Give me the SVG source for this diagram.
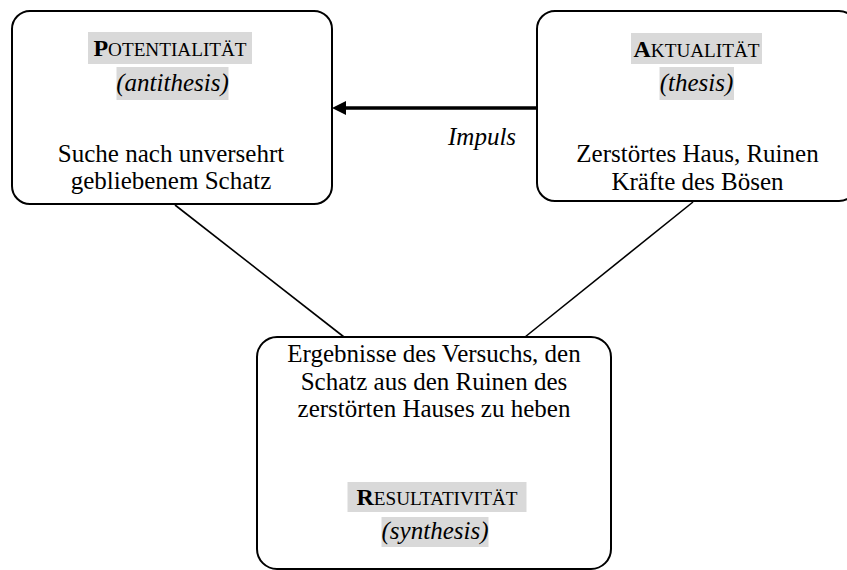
<svg xmlns="http://www.w3.org/2000/svg" width="847" height="570" viewBox="0 0 847 570">
<style>
.box{fill:#fff;stroke:#000;stroke-width:2}
text{font-family:'Liberation Serif','DejaVu Serif',serif;fill:#000;text-anchor:middle}
.t{font-size:25px}
.ti{font-size:19.2px}
.cap{font-size:24px;font-weight:bold}
.it{font-style:italic}
.hl{fill:#d9d9d9}
.conn{stroke:#000;stroke-width:1.6;fill:none}
</style>
<defs>
<clipPath id="rclip"><rect x="537" y="0" width="320" height="191.5"/></clipPath>
</defs>
<g id="connectors">
<line class="conn" x1="175" y1="205" x2="344" y2="337"/>
<line class="conn" x1="693" y1="202" x2="525" y2="337"/>
<line x1="537" y1="108" x2="346" y2="108" stroke="#000" stroke-width="3.5"/>
<path d="M346,101 L332,108 L346,115 Z" fill="#000"/>
<text class="t it" x="448" y="145" font-family="Liberation Serif, serif" style="text-anchor:start">Impuls</text>
</g>
<g id="potentialitaet">
<rect class="box" x="12" y="11" width="320" height="193" rx="18"/>
<rect class="hl" x="88" y="32" width="164" height="32"/>
<text class="ti" x="170" y="56"><tspan class="cap">P</tspan>OTENTIALITÄT</text>
<rect class="hl" x="116.5" y="67" width="112" height="33"/>
<text class="t it" x="172.5" y="91">(antithesis)</text>
<text class="t" x="171" y="162">Suche nach unversehrt</text>
<text class="t" x="171" y="189">gebliebenem Schatz</text>
</g>
<g id="aktualitaet">
<rect class="box" x="537" y="11" width="320" height="190" rx="18"/>
<rect class="hl" x="631" y="33" width="131" height="31"/>
<text class="ti" x="696.5" y="57"><tspan class="cap">A</tspan>KTUALITÄT</text>
<rect class="hl" x="659.5" y="67" width="74.5" height="33"/>
<text class="t it" x="696.5" y="91">(thesis)</text>
<g clip-path="url(#rclip)">
<text class="t" x="697.5" y="162">Zerstörtes Haus, Ruinen</text>
<text class="t" x="697.5" y="189.5">Kräfte des Bösen</text>
</g>
</g>
<g id="resultativitaet">
<rect class="box" x="257" y="337" width="354" height="232" rx="20"/>
<text class="t" x="434" y="362">Ergebnisse des Versuchs, den</text>
<text class="t" x="434" y="389.5">Schatz aus den Ruinen des</text>
<text class="t" x="434" y="417">zerstörten Hauses zu heben</text>
<rect class="hl" x="347.5" y="482" width="179" height="30"/>
<text class="ti" x="437" y="505"><tspan class="cap">R</tspan>ESULTATIVITÄT</text>
<rect class="hl" x="381.5" y="517" width="107" height="30"/>
<text class="t it" x="435" y="539">(synthesis)</text>
</g>
</svg>
